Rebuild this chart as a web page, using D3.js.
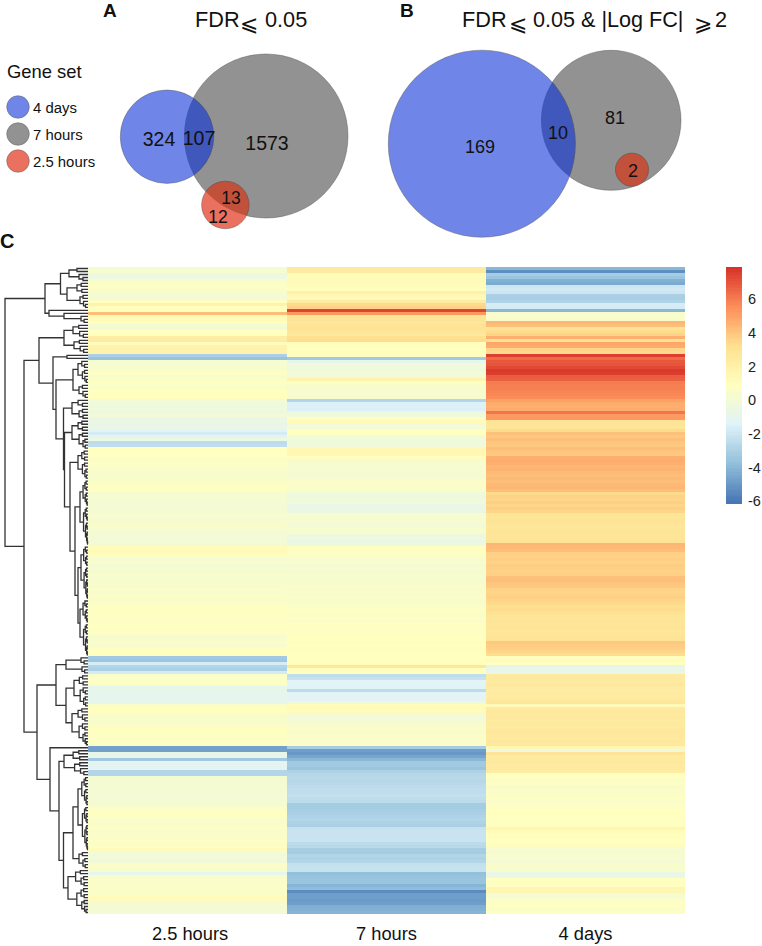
<!DOCTYPE html>
<html><head><meta charset="utf-8">
<style>html,body{margin:0;padding:0;background:#fff}svg{display:block}text{font-family:"Liberation Sans",Arial,sans-serif;fill:#111}</style>
<script src="https://cdn.jsdelivr.net/npm/d3@7"></script></head><body>
<svg id="c" width="762" height="946"></svg>
<script>
const timepoints = ["2.5 hours","7 hours","4 days"];
const legendSets = ["4 days","7 hours","2.5 hours"];
const legendColors = ["#6f86e8","#929292","#ea705f"];
const colorbarTicks = [-6,-4,-2,0,2,4,6];
const paletteStops = [-6.1,-3.77,-1.43,0.9,3.23,5.57,7.9];
const paletteColors = ["#4575b4","#91bfdb","#e0f3f8","#ffffbf","#fee090","#fc8d59","#d73027"];

const valuesTwoHalf = [
0.3,0.3,-0.4,-0.5,0.3,0.6,0.7,0.6,0.4,0.0,
0.1,0.8,1.9,1.0,1.0,4.2,1.4,1.3,1.0,0.1,
0.0,0.9,1.0,2.2,2.3,1.1,1.7,1.9,1.8,-3.0,
-3.6,0.2,0.2,0.3,0.6,0.7,0.3,0.6,0.8,0.6,
0.6,0.9,1.0,1.0,0.0,-0.3,-0.2,-0.3,-0.4,-0.1,
-0.6,-0.7,-0.8,-0.6,-1.3,-1.8,-1.2,-0.5,-2.5,-2.4,
0.9,0.9,0.9,0.7,0.6,0.7,0.5,0.5,0.4,0.3,
0.4,0.6,0.6,0.8,0.8,0.2,0.2,0.1,0.1,0.0,
0.1,0.1,0.3,0.2,0.1,0.4,0.4,0.2,0.1,0.0,
-0.1,0.0,0.1,1.2,1.3,1.2,0.5,0.3,0.2,0.1,
0.3,0.1,0.6,0.3,0.2,0.4,0.2,0.5,0.2,0.5,
0.6,0.4,0.6,0.7,0.8,0.7,0.8,0.8,0.7,0.9,
0.7,0.8,0.7,0.2,0.4,0.5,0.3,0.8,0.9,1.0,
-3.3,-3.4,-1.7,-2.8,-3.0,-1.8,0.5,0.7,0.7,0.6,
-0.9,-0.8,-1.0,-1.0,-1.0,-0.9,0.6,1.0,1.0,0.4,
0.4,0.4,0.5,0.6,1.0,0.8,0.7,0.7,0.7,0.7,
-4.7,-4.7,-0.8,-0.8,-3.3,-1.2,-1.2,-1.2,-2.8,-2.8,
0.1,0.1,0.1,0.0,0.1,0.1,0.0,0.0,0.1,0.1,
0.5,0.7,0.8,0.7,0.5,0.4,0.6,0.7,0.5,0.5,
0.6,0.7,0.6,0.8,1.1,-0.1,-0.2,0.0,-0.2,0.6,
0.5,0.3,-1.0,0.3,0.5,0.5,0.6,0.5,0.6,0.6,
1.1,1.1,0.1,0.1,0.1,0.1];

const valuesSeven = [
2.5,2.4,1.2,1.2,1.3,1.1,1.1,1.0,2.0,1.4,
1.3,2.3,3.4,3.6,7.4,5.3,2.8,2.9,2.7,2.9,
3.0,2.8,2.6,3.2,3.3,1.0,1.0,0.9,1.0,0.8,
-3.3,-1.0,-0.2,-0.3,-0.2,-0.1,0.0,1.7,0.8,0.4,
0.3,0.3,0.2,0.3,-2.8,-1.5,-1.5,-1.6,-0.4,-0.3,
1.0,1.1,-0.1,0.0,0.9,0.9,0.0,-0.3,-0.3,-0.2,
1.4,1.5,1.4,1.0,0.4,0.3,0.2,0.2,0.1,0.1,
0.2,0.5,0.5,0.6,0.4,-0.3,-0.4,-0.2,-0.3,-0.7,
-0.7,-0.6,0.3,0.2,0.3,0.0,0.1,0.3,0.3,-0.4,
-0.5,-0.6,-0.4,0.8,0.8,0.7,0.5,0.4,0.3,0.1,
0.4,0.1,0.4,0.3,0.2,0.4,0.5,0.4,0.5,0.2,
0.5,0.4,0.4,0.6,0.7,0.7,0.6,0.7,0.6,0.7,
0.8,0.7,0.7,1.0,0.9,1.0,0.9,1.0,1.0,0.9,
0.9,1.0,1.0,2.6,1.0,1.0,-2.4,-2.2,-1.3,-1.3,
-1.4,-2.5,-1.3,-1.3,-1.2,-0.4,1.2,1.3,1.1,0.0,
-0.1,0.0,0.3,0.5,0.5,0.4,0.5,0.6,0.5,0.5,
-3.2,-4.8,-5.0,-4.6,-4.0,-3.3,-3.3,-3.5,-2.9,-2.7,
-2.6,-2.7,-2.6,-2.5,-2.4,-2.4,-2.3,-2.4,-2.5,-3.2,
-3.2,-3.1,-3.0,-2.9,-2.8,-2.9,-3.0,-2.2,-2.1,-2.1,
-2.1,-2.1,-2.5,-2.6,-3.1,-3.2,-2.8,-2.9,-2.8,-2.3,
-2.2,-2.2,-3.7,-3.6,-3.5,-3.5,-4.1,-3.8,-5.4,-4.8,
-4.8,-4.9,-4.8,-4.3,-4.2,-4.1];

const valuesFour = [
-4.0,-5.3,-3.2,-3.5,-4.2,-4.4,-2.0,-1.9,-2.0,-3.0,
-3.1,-2.9,-1.7,-1.8,-4.0,0.4,0.5,0.4,4.4,4.2,
3.0,3.3,3.6,4.6,3.2,4.8,4.7,3.5,3.4,7.5,
6.4,6.9,7.0,7.3,7.7,7.6,6.8,6.7,6.0,5.9,
5.9,5.8,5.7,5.6,5.0,4.7,4.6,4.7,6.2,5.2,
5.2,2.9,2.9,2.8,3.4,4.1,3.9,4.2,4.0,3.9,
4.2,4.0,3.9,4.6,4.7,4.6,4.4,4.5,4.3,4.2,
4.3,4.2,4.3,4.4,4.2,3.4,3.6,3.5,3.7,3.5,
3.7,3.5,2.9,2.8,3.0,2.9,2.7,2.8,2.9,2.8,
2.9,3.0,4.4,4.3,4.2,3.7,3.6,3.7,3.6,3.8,
3.7,3.6,3.7,4.1,4.2,4.0,3.9,3.6,3.5,3.6,
3.7,3.5,3.4,3.2,3.3,3.1,2.9,2.8,2.9,2.8,
2.9,2.7,2.8,2.9,3.0,3.9,3.8,3.7,3.5,3.3,
1.0,1.2,0.9,-0.8,-0.8,-0.7,2.4,2.5,2.4,2.6,
2.4,2.3,2.4,2.3,2.5,2.7,1.3,2.4,2.6,2.5,
2.6,2.4,2.5,2.4,2.6,2.7,2.6,2.5,2.6,2.6,
1.5,-0.4,2.9,2.4,2.5,2.6,2.4,2.5,2.3,0.8,
0.9,0.5,0.7,0.4,0.6,0.5,0.6,0.8,0.5,0.7,
0.7,0.9,1.0,0.9,0.8,0.7,1.0,1.6,1.2,1.0,
1.0,0.9,0.8,1.1,0.2,0.1,0.3,0.2,0.0,0.3,
0.4,0.3,-0.7,-0.7,0.9,1.0,0.8,1.6,1.6,0.1,
0.2,0.7,0.7,0.8,0.6,0.7];

// Dendrogram: merge height, then children. A bare clade is (height, leaf count).
const N = (h, ...kids) => ({h, kids});
const clade = (h, n) => {
  if (n <= 1) return {h:0, kids:[]};
  const next = h * 0.62;
  const first = n > 3 ? Math.round(n * 0.4) : 1;
  return N(h, clade(next, first), clade(next * 0.9, n - first));
};
const dendrogram = N(83,
  N(43,
    N(27.5, N(19, clade(11,2), clade(9,3)), N(21, clade(11,4), clade(8,5))),
    N(39, clade(0,1), N(24, clade(0,1), clade(7,3)))),
  N(64,
    N(49,
      N(24, clade(15,5), clade(14,5)),
      N(35,
        N(21, clade(0,1), clade(0,1)),
        N(32,
          N(15, clade(10,8), clade(9,5)),
          N(24.5,
            clade(16,7),
            N(23.5, clade(16,10),
              N(18, clade(10,10), N(13, clade(8,22), N(10, clade(7,18), clade(8,19))))))))),
    N(51,
      N(32, N(22, clade(7,3), clade(6,3)), N(22, clade(14,11), clade(16,13))),
      N(38, clade(0,1),
        N(29,
          clade(24,9),
          N(24.5,
            N(15, clade(10,25), clade(9,6)),
            clade(20,15)))))));

// Venn diagrams: counts per region
const vennACounts = [324,107,1573,13,12];
const vennBCounts = [169,10,81,2];

// ---------------- scales
const rows = d3.range(valuesFour.length);
const x = d3.scaleBand().domain(timepoints).range([88,685]);
const y = d3.scaleBand().domain(rows).range([267,914]);
const color = d3.scaleLinear().domain(paletteStops).range(paletteColors).clamp(true);
const barY = d3.scaleLinear().domain([-6.1,7.9]).range([503,267]);
const dendX = d3.scaleLinear().domain([0,83]).range([88,5]);
const svg = d3.select("#c");
const defs = svg.append("defs");
defs.append("filter").attr("id","soft").attr("x",0).attr("y",0).attr("width",1).attr("height",1)
  .append("feGaussianBlur").attr("stdDeviation","0 0.6");

// ---------------- heatmap
const heat = svg.append("g").attr("filter","url(#soft)");
[valuesTwoHalf, valuesSeven, valuesFour].forEach((vals,k)=>{
  heat.append("g").selectAll("rect").data(vals).join("rect")
    .attr("x",x(timepoints[k])).attr("width",x.bandwidth())
    .attr("y",(d,i)=>y(i)).attr("height",y.bandwidth()+0.4)
    .attr("fill",d=>color(d)).attr("shape-rendering","crispEdges");
});
const bottom = d3.axisBottom(x).tickSize(0).tickPadding(0);
const ax = svg.append("g").attr("transform","translate(0,925)").call(bottom);
ax.select(".domain").remove();
ax.selectAll("text").attr("font-size",18.3).attr("dy",0).attr("y",15)
  .attr("x",(d,i)=>i===0?2.5:0).style("fill","#111");

// ---------------- colour bar
const barVals = d3.range(100).map(i=>7.9-14*i/100);
svg.append("g").selectAll("rect").data(barVals).join("rect")
  .attr("x",726).attr("width",16)
  .attr("y",d=>barY(d)).attr("height",236/100+0.5)
  .attr("fill",d=>color(d-0.07)).attr("shape-rendering","crispEdges");
const rightAx = d3.axisRight(barY).tickValues(colorbarTicks).tickSize(0).tickPadding(0).tickFormat(d=>String(d));
const rg = svg.append("g").attr("transform","translate(748,0)").call(rightAx);
rg.select(".domain").remove();
rg.selectAll("text").attr("font-size",14.5).attr("x",0).style("fill","#222");

// ---------------- dendrogram
const root = d3.hierarchy(dendrogram,d=>d.kids.length?d.kids:null);
let leaf = 0;
root.eachAfter(n=>{
  if(!n.children){ n.py = y(leaf)+y.bandwidth()/2; leaf++; }
  else n.py = (n.children[0].py+n.children[n.children.length-1].py)/2;
});
const linkPath = n=>{
  const a=n.children[0], b=n.children[n.children.length-1], X=dendX(n.data.h);
  return `M${dendX(a.data.h)},${a.py}H${X}V${b.py}H${dendX(b.data.h)}`;
};
svg.append("g").attr("fill","none").attr("stroke","#333").attr("stroke-width",1.3)
  .selectAll("path").data(root.descendants().filter(n=>n.children)).join("path").attr("d",linkPath);

// ---------------- venn
function venn(id, blue, grey, red){
  const g = svg.append("g").attr("stroke","#555").attr("stroke-opacity",0.55).attr("stroke-width",0.8);
  const c=(o,f)=>g.append("circle").attr("cx",o[0]).attr("cy",o[1]).attr("r",o[2]).attr("fill",f);
  defs.append("clipPath").attr("id",id+"g").append("circle").attr("cx",grey[0]).attr("cy",grey[1]).attr("r",grey[2]);
  c(grey,"#929292"); c(blue,"#6f86e8");
  c(blue,"#4057bb").attr("clip-path",`url(#${id}g)`);
  c(red,"#ea705f");
  c(red,"#c2513c").attr("clip-path",`url(#${id}g)`);
}
venn("a",[167,136.7,46.7],[266,136,82],[225.3,205,23.7]);
venn("b",[481.8,143.7,93.5],[611,120.3,70],[632,169.7,16.5]);

const label=(s,xp,yp,size,anchor,extra)=>{
  const t=svg.append("text").attr("x",xp).attr("y",yp).attr("font-size",size).attr("text-anchor",anchor||"start").text(s);
  if(extra) extra(t); return t;
};
const numsA=[[159,146],[199,145],[267,150],[231,204],[218,223]];
const sizesA=[19.5,19.5,19.5,17.5,17.5];
vennACounts.forEach((v,i)=>label(v,numsA[i][0],numsA[i][1],sizesA[i],"middle"));
const numsB=[[480,153],[558,139],[615,124],[633,177]];
vennBCounts.forEach((v,i)=>label(v,numsB[i][0],numsB[i][1],18,"middle"));

// ---------------- legend
label("Gene set",7,78,18.4);
const legY=d3.scalePoint().domain(legendSets).range([107,161]);
svg.append("g").selectAll("circle").data(legendSets).join("circle")
  .attr("cx",18).attr("cy",d=>legY(d)).attr("r",11.3)
  .attr("fill",(d,i)=>legendColors[i]).attr("stroke","#555").attr("stroke-opacity",0.55).attr("stroke-width",0.8);
legendSets.forEach(s=>label(s,33,legY(s)+5.5,14.9));

// ---------------- titles
const sym=(s,xp,yp)=>label(s,xp,yp,22,"start",t=>t.style("font-family","DejaVu Sans"));
label("FDR",195,27,21.7);
sym("\u2A7D",240,31);
label("0.05",265,27,21.7);
label("FDR",462,27,21.7);
sym("\u2A7D",509,31);
label("0.05 & |Log FC|",533,27,21.6);
sym("\u2A7E",694,31);
label("2",715,27,21.7);
label("A",103,17,19,"start",t=>t.attr("font-weight","bold"));
label("B",400,17,19,"start",t=>t.attr("font-weight","bold"));
label("C",0,248,20,"start",t=>t.attr("font-weight","bold"));
</script></body></html>
